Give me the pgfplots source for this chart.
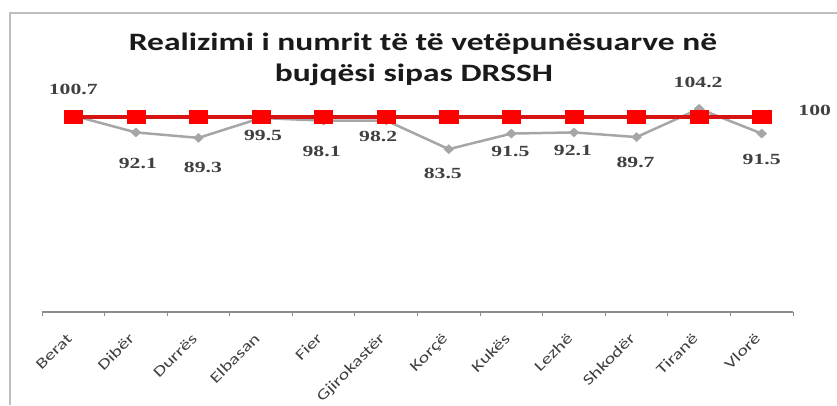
\documentclass[border=0pt]{standalone}
\usepackage{fontspec}
\usepackage{pgfplots}
\pgfplotsset{compat=1.18}
\newfontfamily\titlefont[FakeStretch=1.34]{Carlito}
\newfontfamily\lblfont[FakeStretch=1.4]{Liberation Serif}
\newfontfamily\tickfont[FakeStretch=1.35]{Carlito}
\definecolor{grayline}{RGB}{166,166,166}
\definecolor{redline}{RGB}{215,20,20}
\definecolor{redmark}{RGB}{255,0,0}
\definecolor{framegray}{RGB}{190,190,190}
\definecolor{axisgray}{RGB}{140,140,140}
\definecolor{lblcol}{RGB}{64,64,64}
\definecolor{titlecol}{RGB}{26,26,26}
\begin{document}
\begin{tikzpicture}[x=1pt,y=1pt]
\useasboundingbox (0,0) rectangle (837,405);
\draw[color=framegray, line width=1.5pt] (10,0) -- (10,392) -- (837,392);
\node[font=\titlefont\bfseries\fontsize{25}{30}\selectfont, text=titlecol] at (423,361) {Realizimi i numrit të të vetëpunësuarve në};
\node[font=\titlefont\bfseries\fontsize{25}{30}\selectfont, text=titlecol] at (414,330) {bujqësi sipas DRSSH};
\begin{axis}[
  at={(42pt,93pt)}, anchor=south west, scale only axis,
  width=751pt, height=234pt,
  xmin=-0.5, xmax=11.5, ymin=0, ymax=120,
  hide y axis,
  axis x line*=bottom,
  x axis line style={-, draw=axisgray, line width=1.2pt},
  xtick={-0.5,0.5,...,11.5}, xticklabels={},
  major tick length=4pt, tick align=outside,
  xtick style={draw=axisgray, line width=1pt},
  extra x ticks={0,1,2,3,4,5,6,7,8,9,10,11},
  extra x tick labels={Berat,Dibër,Durrës,Elbasan,Fier,Gjirokastër,Korçë,Kukës,Lezhë,Shkodër,Tiranë,Vlorë},
  extra x tick style={major tick length=0pt, tick style={draw=none}},
  x tick label style={font=\tickfont\fontsize{15}{15}\selectfont, text=lblcol, xshift=2pt, yshift=-25pt, anchor=base east, rotate=45},
  clip=false,
]
\addplot[color=grayline, line width=2.5pt, mark=diamond*, mark size=4.5pt, mark options={fill=grayline, draw=grayline, line width=0.5pt, xscale=1.45}]
  coordinates {(0,100.7) (1,92.1) (2,89.3) (3,99.5) (4,98.1) (5,98.2) (6,83.5) (7,91.5) (8,92.1) (9,89.7) (10,104.2) (11,91.5)};
\addplot[color=redline, line width=3.5pt, mark=square*, mark size=6.5pt, mark options={fill=redmark, draw=redmark, line width=0.5pt, xscale=1.4}]
  coordinates {(0,100) (1,100) (2,100) (3,100) (4,100) (5,100) (6,100) (7,100) (8,100) (9,100) (10,100) (11,100)};
\tikzset{lbl/.style={font=\lblfont\bfseries\fontsize{15.5}{15.5}\selectfont, text=lblcol}}
\node[lbl, yshift=26pt] at (axis cs:0,100.7) {100.7};
\node[lbl, xshift=2pt, yshift=-30.6pt] at (axis cs:1,92.1) {92.1};
\node[lbl, xshift=4.5pt, yshift=-30pt] at (axis cs:2,89.3) {89.3};
\node[lbl, xshift=2pt, yshift=-18pt] at (axis cs:3,99.5) {99.5};
\node[lbl, xshift=-2pt, yshift=-31pt] at (axis cs:4,98.1) {98.1};
\node[lbl, xshift=-8pt, yshift=-15.5pt] at (axis cs:5,98.2) {98.2};
\node[lbl, xshift=-6pt, yshift=-24pt] at (axis cs:6,83.5) {83.5};
\node[lbl, xshift=-1pt, yshift=-18pt] at (axis cs:7,91.5) {91.5};
\node[lbl, xshift=-1pt, yshift=-18pt] at (axis cs:8,92.1) {92.1};
\node[lbl, xshift=-1pt, yshift=-25pt] at (axis cs:9,89.7) {89.7};
\node[lbl, xshift=-1pt, yshift=26pt] at (axis cs:10,104.2) {104.2};
\node[lbl, yshift=-26pt] at (axis cs:11,91.5) {91.5};
\node[lbl, xshift=53pt, yshift=7pt] at (axis cs:11,100) {100};
\end{axis}
\end{tikzpicture}
\end{document}
